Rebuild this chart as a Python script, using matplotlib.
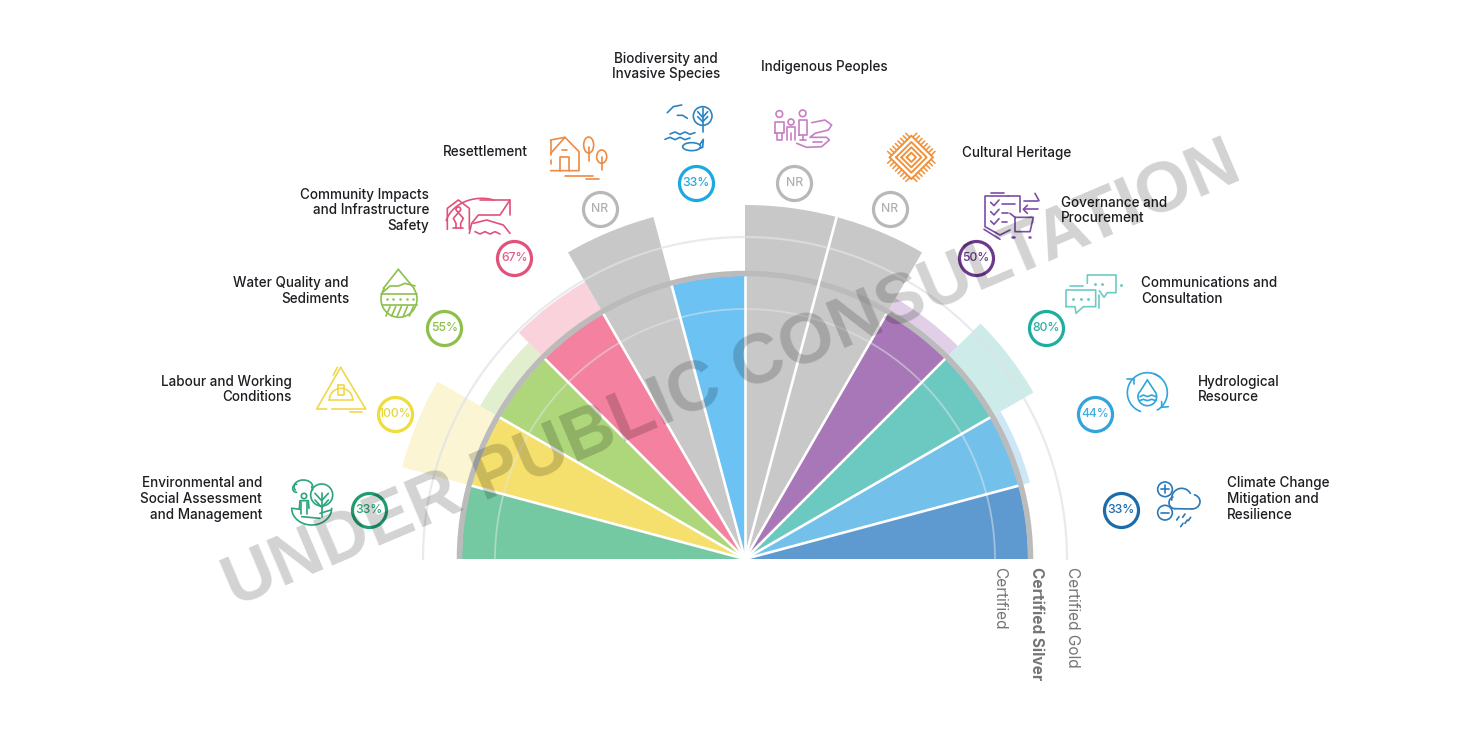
import numpy as np
import matplotlib
matplotlib.use("Agg")
import matplotlib.pyplot as plt
from matplotlib.patches import Ellipse

plt.rcParams['font.family'] = ['Inter', 'DejaVu Sans']

W, H = 1480, 752
CX, CY, RMAX = 745, 559, 400

# ---------------- data (left to right round the half circle) ----------------
categories = ["Environmental and\nSocial Assessment\nand Management", "Labour and Working\nConditions",
              "Water Quality and\nSediments", "Community Impacts\nand Infrastructure\nSafety", "Resettlement",
              "Biodiversity and\nInvasive Species", "Indigenous Peoples", "Cultural Heritage",
              "Governance and\nProcurement", "Communications and\nConsultation", "Hydrological\nResource",
              "Climate Change\nMitigation and\nResilience"]
badge_labels = ["33%", "100%", "55%", "67%", "NR", "33%", "NR", "NR", "50%", "80%", "44%", "33%"]
scores = [283, 355, 306, 320, 354, 283, 354, 354, 301, 333, 295, 283]
not_rated = [False, False, False, False, True, False, True, True, False, False, False, False]
levels = ["Certified", "Certified Silver", "Certified Gold"]
level_radii = [250, 285.5, 322]

solid_colors = ["#74C9A2", "#F5E06E", "#AED67B", "#F4819F", "#C8C8C8", "#6BC2F3",
                "#C8C8C8", "#C8C8C8", "#A777B7", "#6CC9C1", "#73C1EA", "#5E9ACF"]
light_colors = ["#74C9A2", "#FBF5D3", "#E2EFCF", "#FAD2DC", "#C8C8C8", "#6BC2F3",
                "#C8C8C8", "#C8C8C8", "#E0CFE6", "#CDEBE8", "#CDE7F6", "#5E9ACF"]
badge_colors = ["#1E9E6E", "#EEDD3A", "#8DC04B", "#E0527B", "#B8B8B8", "#1BA9DF",
                "#B8B8B8", "#B8B8B8", "#6B3A8C", "#1FAE9E", "#2FA5DC", "#1C6CAC"]
text_colors = ["#2BA57A", "#E6D63C", "#8DC04B", "#E0608A", "#B0B0B0", "#28A9DF",
               "#B0B0B0", "#B0B0B0", "#6B3A8C", "#2BB0A2", "#3FADDF", "#1C6CAC"]

# (x anchor, y centre, horizontal alignment) of each label
label_pos = [(262, 499, "right"), (292, 389.5, "right"), (349, 291, "right"), (429, 210.5, "right"),
             (528, 152.5, "right"), (666, 66.5, "center"), (761, 66.5, "left"), (962, 153, "left"),
             (1061, 210.5, "left"), (1141, 291, "left"), (1198, 389.5, "left"), (1227, 499, "left")]

fig = plt.figure(figsize=(W / 100, H / 100), dpi=100, facecolor="white")

# ---------------- polar chart ----------------
ax = fig.add_axes([(CX - RMAX) / W, (H - CY - RMAX) / H, 2 * RMAX / W, 2 * RMAX / H], projection="polar")
ax.set_theta_zero_location("E")
ax.set_theta_direction(1)
ax.set_rlim(0, RMAX)
ax.set_axis_off()
ax.patch.set_alpha(0)

n = len(scores)
step = np.pi / n
theta = np.pi - (np.arange(n) + 0.5) * step
INNER = 283

ax.bar(theta, scores, width=step, color=light_colors, linewidth=0, zorder=1)
ax.bar(theta, np.minimum(scores, INNER), width=step, color=solid_colors, linewidth=0, zorder=2)

arc = np.linspace(0, np.pi, 300)
ax.plot(arc, np.full(300, level_radii[2]), color="#DFE2E6", alpha=0.7, lw=1.6, zorder=3)
ax.plot(arc, np.full(300, level_radii[0]), color="#E4E7EA", alpha=0.5, lw=1.3, zorder=3)
ax.bar([np.pi / 2], [5.5], width=np.pi, bottom=level_radii[1] - 2.75, color="#BBBBBB", linewidth=0, zorder=4)

for i in range(1, n):
    t = np.pi - i * step
    top = 354 if not_rated[i] and not_rated[i - 1] else INNER
    ax.plot([t, t], [0, top], color="white", lw=1.9, zorder=5, solid_capstyle="butt")

for t, col, lab, tc in zip(theta, badge_colors, badge_labels, text_colors):
    ax.plot([t], [379], marker="o", ms=24.5, mfc="white", mec=col, mew=2.3, zorder=6, clip_on=False)
    ax.text(t, 379, lab, ha="center", va="center", fontsize=8.8, fontweight="medium", color=tc, zorder=7)

# ---------------- overlay in pixel coordinates ----------------
ov = fig.add_axes([0, 0, 1, 1])
ov.set_xlim(0, W)
ov.set_ylim(H, 0)
ov.set_axis_off()
ov.patch.set_alpha(0)

for name, (x, y, ha) in zip(categories, label_pos):
    ov.text(x, y, name, ha=ha, va="center", fontsize=9.7, fontweight="medium", color="#1D1D22",
            linespacing=1.15, multialignment=ha)

for lab, x, wt, sz in zip(levels, [1000, 1036, 1072], ["normal", "bold", "normal"], [11.1, 11.1, 11.1]):
    ov.text(x, 567, lab, rotation=270, ha="center", va="top", fontsize=sz, color="#757575", fontweight=wt)


def icon(color, ox, oy, lw=1.2):
    """Helpers that draw a line icon from coordinates in a local 3x grid."""
    def l(*pts, w=lw):
        p = np.array(pts, float)
        ov.plot(ox + p[:, 0] / 3, oy + p[:, 1] / 3, color=color, lw=w, solid_capstyle="round", solid_joinstyle="round")

    def c(x, y, rx, ry=None, fc="none", w=lw):
        ry = rx if ry is None else ry
        ov.add_patch(Ellipse((ox + x / 3, oy + y / 3), 2 * rx / 3, 2 * ry / 3, fc=fc, ec=color, lw=w))

    def a(x, y, rx, ry, t0, t1):
        t = np.radians(np.linspace(t0, t1, 30))
        ov.plot(ox + (x + rx * np.cos(t)) / 3, oy + (y + ry * np.sin(t)) / 3, color=color, lw=lw, solid_capstyle="round")
    return l, c, a


# Environmental
l, c, a = icon("#2BA57A", 130, 260)
c(575, 705, 33)
l((575, 700), (575, 770)); l((555, 700), (575, 722), (595, 700)); l((555, 720), (575, 742), (595, 720))
a(520, 680, 28, 20, 150, 360); a(500, 685, 12, 12, 90, 270); l((545, 680), (548, 690))
c(522, 708, 8); l((508, 745), (510, 722), (535, 722), (537, 745)); l((513, 725), (513, 762)); l((531, 725), (531, 762))
a(545, 745, 60, 50, 0, 180); l((487, 745), (510, 748)); l((570, 760), (603, 750)); l((515, 770), (570, 775))

# Labour
l, c, a = icon("#F0D84A", 130, 260)
l((632, 322), (560, 447), (590, 447)); l((605, 447), (707, 447), (632, 322)); l((610, 345), (622, 322))
a(633, 420, 35, 35, 180, 360); l((598, 421), (670, 421)); l((625, 375), (625, 405), (642, 405), (642, 375), (625, 375))
l((660, 456), (695, 456))

# Water
l, c, a = icon("#8DC04B", 130, 260)
l((805, 28), (760, 85)); l((805, 28), (852, 85)); a(807, 117, 54, 55, -35, 215)
l((758, 97), (780, 78), (805, 78), (825, 70), (855, 78)); l((752, 102), (860, 102)); l((755, 135), (860, 135))
for xx in (768, 785, 802, 820, 838):
    l((xx, 168), (xx + 12, 140))
for xx in (770, 790, 810, 830, 848):
    ov.plot(130 + xx / 3, 260 + 118 / 3, ".", ms=1.6, color="#8DC04B")

# Community
l, c, a = icon("#E0527B", 400, 200)
l((142, 88), (142, 25), (175, 0), (208, 25), (208, 88)); c(175, 28, 7)
l((175, 38), (160, 55), (168, 70), (168, 85)); l((175, 38), (190, 55), (182, 70), (182, 85)); l((160, 85), (190, 85))
a(245, 85, 110, 90, 195, 290); l((240, 0), (330, 0)); l((330, 45), (330, 0), (300, 45), (235, 45), (215, 70), (208, 100))
l((220, 70), (260, 60), (310, 75), (330, 100)); l((225, 95), (240, 102), (255, 95), (270, 102), (285, 95), (300, 102))

# Resettlement
l, c, a = icon("#EE8A45", 430, 40)
l((362, 340), (405, 292), (447, 335), (447, 392), (362, 392)); l((362, 300), (405, 292)); l((362, 300), (362, 345))
l((362, 360), (362, 372)); l((390, 392), (390, 350), (418, 350), (418, 392)); l((397, 330), (412, 330))
c(476, 315, 15, 24); l((476, 320), (476, 362)); c(515, 350, 15, 20); l((515, 350), (515, 390))
l((405, 407), (490, 407)); l((468, 417), (508, 417))

# Biodiversity
l, c, a = icon("#2A84C2", 430, 40)
c(818, 228, 28); l((818, 205), (818, 276)); l((803, 215), (818, 232), (833, 215)); l((803, 230), (818, 245), (833, 230))
l((712, 218), (730, 200), (755, 195)); l((742, 226), (758, 226), (772, 235))
l((720, 282), (735, 276), (750, 283), (765, 276), (780, 283), (795, 278))
l((705, 298), (720, 292), (735, 299), (750, 292), (765, 299), (780, 294))
c(785, 320, 27, 12); l((810, 313), (820, 298), (818, 322), (808, 325))

# Indigenous
l, c, a = icon("#C77FC4", 750, 40)
c(88, 222, 10); c(123, 246, 9); c(158, 220, 10)
l((75, 280), (75, 245), (102, 245), (102, 280), (75, 280)); l((82, 280), (82, 300), (96, 300), (96, 280))
l((112, 300), (112, 262), (135, 262), (135, 300)); l((123, 280), (123, 300))
l((147, 285), (147, 240), (172, 240), (172, 285), (147, 285)); l((158, 285), (158, 300)); l((150, 300), (168, 300))
l((185, 248), (225, 240), (245, 255), (235, 270), (195, 280), (180, 292), (230, 292), (238, 300), (215, 320), (170, 322), (140, 310))
l((190, 305), (215, 305))

# Cultural
l, c, a = icon("#F0923B", 750, 40, lw=1.4)
dx0, dy0 = 484, 352
for d in (65, 46, 30, 14):
    l((dx0 - d, dy0), (dx0, dy0 - d), (dx0 + d, dy0), (dx0, dy0 + d), (dx0 - d, dy0))
for s1, s2 in ((1, 1), (1, -1), (-1, 1), (-1, -1)):
    for k in np.arange(0.07, 1.0, 0.12):
        bx, by = dx0 + s1 * 65 * k, dy0 + s2 * 65 * (1 - k)
        l((bx, by), (bx + s1 * 12, by + s2 * 12), w=1.1)

# Governance
l, c, a = icon("#7B4FA5", 950, 180)
l((122, 38), (162, 38)); l((175, 48), (105, 48), (105, 140), (150, 165), (180, 150)); l((175, 48), (210, 48), (210, 95))
for yy in (72, 100, 128):
    l((122, yy - 5), (132, yy + 5), (147, yy - 12))
l((155, 72), (195, 72)); l((155, 100), (175, 100)); l((155, 125), (172, 125))
l((222, 62), (265, 62)); l((255, 40), (267, 62)); l((265, 88), (222, 88)); l((232, 100), (220, 88), (232, 76))
l((180, 100), (195, 112), (250, 112), (240, 155), (195, 155), (195, 112)); l((187, 170), (192, 170), w=1.8); l((236, 170), (241, 170), w=1.8)
l((102, 148), (150, 178))

# Communications
l, c, a = icon("#6CCBC5", 950, 180)
l((412, 310), (412, 285), (498, 285), (498, 338), (472, 338), (462, 352), (448, 332))
l((348, 380), (348, 330), (437, 330), (437, 380), (400, 380), (378, 400), (375, 380), (348, 380))
l((360, 318), (398, 318)); l((447, 345), (447, 383))
for xx in (370, 392, 415):
    ov.plot(950 + xx / 3, 180 + 356 / 3, ".", ms=2.2, color="#6CCBC5")
for xx, yy in ((436, 312), (456, 312), (514, 316)):
    ov.plot(950 + xx / 3, 180 + yy / 3, ".", ms=2.2, color="#6CCBC5")

# Hydrological
l, c, a = icon("#2FA5DC", 1060, 360)
a(262, 98, 60, 60, 110, 310); a(262, 98, 60, 60, -70, 60)
l((200, 58), (222, 58), (222, 72)); l((305, 125), (305, 142), (325, 140))
l((262, 60), (240, 95)); l((262, 60), (285, 95)); a(262, 110, 28, 27, -30, 210)
l((240, 110), (250, 105), (262, 110), (275, 105), (288, 110)); l((238, 122), (250, 118), (262, 122), (275, 118), (288, 122))

# Climate
l, c, a = icon("#2A78B8", 1060, 360)
c(315, 388, 22); l((303, 388), (327, 388)); l((315, 376), (315, 400))
c(315, 458, 22); l((303, 458), (327, 458))
a(365, 415, 30, 30, 170, 330); a(395, 425, 25, 22, -70, 90); a(345, 428, 18, 18, 90, 250); l((345, 446), (395, 447))
for xx, yy in ((350, 470), (368, 462), (385, 472), (362, 490), (375, 480)):
    l((xx, yy + 10), (xx + 7, yy))

# ---------------- watermark ----------------
ov.text(733, 377, "UNDER PUBLIC CONSULTATION", rotation=23, rotation_mode="anchor", ha="center", va="center",
        family="Liberation Sans", fontweight="bold", fontsize=50.8, color="black", alpha=0.175)

fig.savefig("out.png", dpi=100, facecolor="white")
